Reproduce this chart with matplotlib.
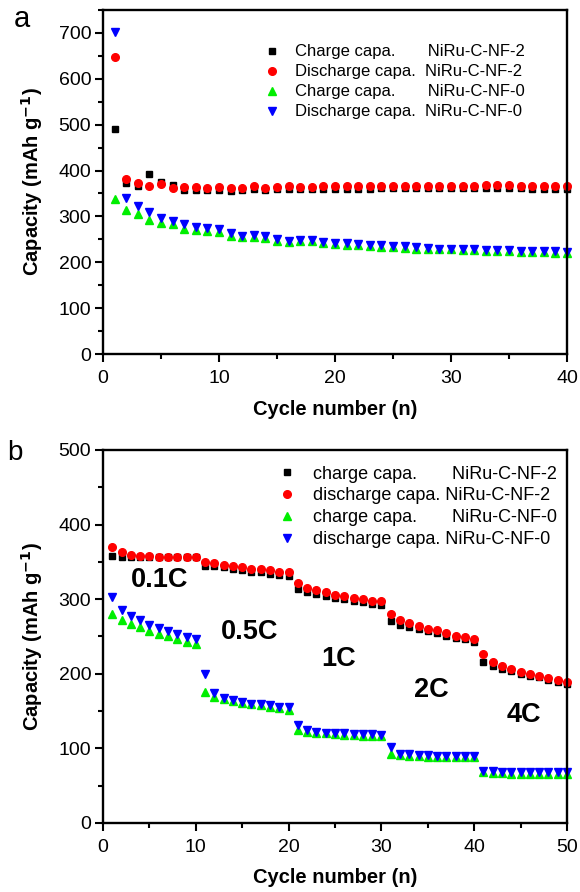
#Cycling and rate capability plots for NiRu-C-NF-2 / NiRu-C-NF-0

import matplotlib
matplotlib.use('Agg')
import matplotlib.pyplot as plt
from matplotlib.ticker import MultipleLocator

plt.rcParams['font.family'] = ['Liberation Sans', 'DejaVu Sans']

# ---- panel a : cycling at fixed rate ----
cycle_a = list(range(1, 41))
charge2_a = [490, 372, 366, 392, 375, 368, 358, 357, 357, 358,
             356, 357, 359, 357, 360, 360, 359, 359, 360, 360,
             360, 360, 360, 361, 361, 361, 361, 361, 361, 361,
             361, 361, 362, 362, 362, 361, 360, 360, 360, 360]
discharge2_a = [648, 381, 373, 366, 370, 363, 365, 365, 363, 364,
                363, 362, 366, 363, 364, 366, 365, 365, 366, 366,
                366, 366, 366, 367, 367, 367, 367, 367, 367, 367,
                367, 367, 368, 368, 369, 367, 366, 366, 366, 366]
charge0_a = [338, 313, 305, 292, 285, 283, 273, 270, 268, 266,
             257, 255, 255, 252, 247, 245, 246, 246, 241, 239,
             238, 237, 235, 234, 233, 232, 230, 229, 228, 228,
             227, 226, 225, 224, 224, 223, 222, 222, 221, 221]
discharge0_a = [703, 341, 322, 309, 296, 291, 283, 278, 274, 272,
                263, 258, 259, 257, 251, 247, 248, 249, 245, 243,
                241, 240, 238, 237, 236, 235, 234, 232, 230, 230,
                229, 228, 227, 227, 226, 225, 225, 224, 224, 223]

# ---- panel b : rate capability ----
cycle_b = list(range(1, 51))
charge2_b = [358, 357, 356, 356, 356, 356, 356, 356, 356, 356,
             345, 344, 343, 341, 339, 337, 336, 334, 333, 331,
             313, 309, 307, 304, 302, 300, 298, 296, 294, 292,
             271, 266, 263, 260, 257, 254, 250, 248, 246, 242,
             216, 211, 207, 204, 200, 197, 195, 192, 189, 186]
discharge2_b = [370, 363, 359, 358, 358, 357, 357, 357, 357, 357,
                350, 348, 346, 345, 343, 341, 340, 339, 337, 336,
                322, 315, 312, 309, 306, 304, 302, 300, 298, 297,
                280, 272, 268, 264, 260, 258, 254, 251, 249, 246,
                226, 216, 211, 207, 203, 200, 197, 194, 192, 189]
charge0_b = [280, 272, 267, 262, 257, 253, 250, 247, 243, 240,
             175, 169, 166, 163, 161, 159, 158, 156, 154, 152,
             124, 122, 121, 120, 119, 118, 118, 117, 117, 116,
             93, 91, 90, 90, 89, 89, 89, 89, 88, 88,
             68, 67, 67, 66, 66, 66, 66, 66, 66, 66]
discharge0_b = [303, 285, 278, 272, 266, 261, 257, 253, 249, 247,
                200, 174, 168, 165, 162, 160, 159, 158, 156, 155,
                131, 124, 122, 121, 121, 120, 119, 119, 119, 118,
                102, 93, 92, 91, 91, 90, 90, 90, 90, 90,
                70, 69, 68, 68, 68, 68, 68, 68, 68, 68]

rate_labels = ['0.1C', '0.5C', '1C', '2C', '4C']
rate_x = [6.1, 15.8, 25.4, 35.4, 45.4]
rate_y = [326, 256, 220, 178, 145]

labels_a = ['Charge capa.       NiRu-C-NF-2',
            'Discharge capa.  NiRu-C-NF-2',
            'Charge capa.       NiRu-C-NF-0',
            'Discharge capa.  NiRu-C-NF-0']
labels_b = ['charge capa.       NiRu-C-NF-2',
            'discharge capa. NiRu-C-NF-2',
            'charge capa.       NiRu-C-NF-0',
            'discharge capa. NiRu-C-NF-0']


def style_axes(ax, xmax, ymax):
	ax.set_xlim(0, xmax)
	ax.set_ylim(0, ymax)
	ax.xaxis.set_major_locator(MultipleLocator(10))
	ax.xaxis.set_minor_locator(MultipleLocator(5))
	ax.yaxis.set_major_locator(MultipleLocator(100))
	ax.yaxis.set_minor_locator(MultipleLocator(50))
	ax.tick_params(which='both', direction='out', width=1.5, labelsize=14,
	               top=False, right=False, colors='black', pad=2.5)
	ax.tick_params(axis='x', which='both', pad=5.5)
	ax.tick_params(which='major', length=6)
	ax.tick_params(which='minor', length=3.5)
	for s in ax.spines.values():
		s.set_linewidth(1.7)
	ax.set_xlabel('Cycle number (n)', fontsize=14.5, fontweight='bold', labelpad=9)
	ax.set_ylabel('Capacity (mAh g$^{\\mathbf{-1}}$)', fontsize=14.5, fontweight='bold', labelpad=10)


def plot_series(ax, x, c2, d2, c0, d0, labels):
	ax.plot(x, c2, 's', color='black', markersize=5, label=labels[0], clip_on=False)
	ax.plot(x, d2, 'o', color='red', markersize=5.5, label=labels[1], clip_on=False)
	ax.plot(x, c0, '^', color='#00ee00', markersize=6, label=labels[2], clip_on=False)
	ax.plot(x, d0, 'v', color='blue', markersize=6, label=labels[3], clip_on=False)


fig = plt.figure(figsize=(5.8, 8.92), dpi=100)

ax1 = fig.add_axes([0.1776, 0.6031, 0.8, 0.3857])
plot_series(ax1, cycle_a, charge2_a, discharge2_a, charge0_a, discharge0_a, labels_a)
style_axes(ax1, 40, 750)
ax1.legend(loc='upper left', bbox_to_anchor=(0.346, 0.90), frameon=False, fontsize=12,
           handletextpad=0.87, labelspacing=0.3, handlelength=1.0,
           borderaxespad=0, borderpad=0)
fig.text(22 / 580, 1 - 19 / 892, 'a', fontsize=21, ha='center', va='center')

ax2 = fig.add_axes([0.1776, 0.0774, 0.8, 0.4182])
plot_series(ax2, cycle_b, charge2_b, discharge2_b, charge0_b, discharge0_b, labels_b)
style_axes(ax2, 50, 500)
ax2.legend(loc='upper left', bbox_to_anchor=(0.377, 0.958), frameon=False, fontsize=13,
           handletextpad=0.94, labelspacing=0.27, handlelength=1.0,
           borderaxespad=0, borderpad=0)
for lab, xx, yy in zip(rate_labels, rate_x, rate_y):
	ax2.text(xx, yy, lab, fontsize=19.5, fontweight='bold', ha='center', va='center')
fig.text(15 / 580, 1 - 453 / 892, 'b', fontsize=20, ha='center', va='center')

fig.savefig('out.png', dpi=100)
